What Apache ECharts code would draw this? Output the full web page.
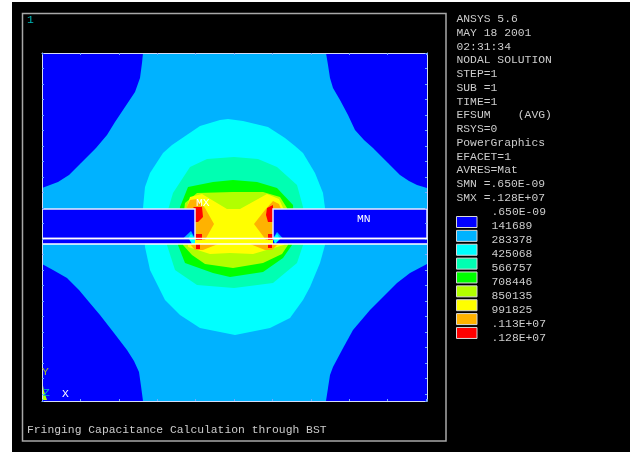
<!DOCTYPE html>
<html><head><meta charset="utf-8">
<style>html,body{margin:0;padding:0;background:#fff;width:630px;height:452px;overflow:hidden}
#bg{position:absolute;left:12px;top:2px;width:618px;height:450px;background:#000}
#c{position:absolute;left:0;top:0;width:630px;height:452px}</style>
<script src="https://cdn.jsdelivr.net/npm/echarts@6/dist/echarts.min.js"></script>
</head><body><div id="bg"></div><div id="c"></div>
<script>
const infoLines = ["ANSYS 5.6","MAY 18 2001","02:31:34","NODAL SOLUTION","STEP=1","SUB =1","TIME=1","EFSUM    (AVG)","RSYS=0","PowerGraphics","EFACET=1","AVRES=Mat","SMN =.650E-09","SMX =.128E+07"];
const levelLabels = [".650E-09","141689","283378","425068","566757","708446","850135","991825",".113E+07",".128E+07"];
const levelColors = ["#0000ff","#00b2ff","#00ffff","#00ffb2","#00ff00","#b2ff00","#ffff00","#ffb200","#ff0000"];
const plotTitle = "Fringing Capacitance Calculation through BST";

const domain = [[0,0],[385,0],[385,348],[0,348]];
const cornerTL = [[0,0],[101,0],[100,10],[98,25],[93,39],[83,54],[73,69],[65,82],[54,95],[39,110],[27,122],[16,129],[8,132],[0,135]];
const cornerTR = [[385,0],[284,0],[286,12],[288,25],[291,35],[298,47],[306,62],[313,77],[322,87],[331,95],[346,110],[358,122],[367,128],[375,132],[385,135]];
const cornerBL = [[0,348],[0,211],[11,217],[25,225],[37,237],[47,249],[58,262],[72,280],[85,297],[92,308],[97,319],[99,333],[101,348]];
const cornerBR = [[385,348],[385,211],[368,220],[355,230],[348,237],[338,247],[328,257],[311,277],[300,297],[291,314],[288,322],[286,335],[284,348]];
const bandCyan = [[186,66],[201,68],[226,74],[243,85],[253,93],[261,100],[273,120],[281,140],[283,155],[283,192],[278,210],[268,234],[261,247],[248,265],[228,275],[193,282],[158,275],[138,262],[123,247],[108,217],[103,194],[101,155],[103,134],[108,120],[121,100],[130,92],[158,73],[178,67]];
const bandSpring = [[192,104],[216,106],[235,114],[255,132],[261,154],[263,175],[261,192],[255,210],[231,230],[192,235],[155,232],[133,217],[125,192],[124,175],[126,157],[131,140],[148,114],[165,106]];
const bandGreen = [[191,127],[215,129],[235,135],[251,152],[252,175],[250,192],[241,205],[221,219],[188,224],[171,220],[143,210],[136,192],[136,175],[138,154],[146,134],[171,129]];
const bandLime = [[155,140],[191,139],[221,139],[238,144],[245,155],[246,175],[246,192],[240,201],[221,210],[191,215],[163,211],[150,202],[141,192],[140,175],[143,150]];
const bandYellow = [[148,144],[160,141],[185,156],[198,156],[225,141],[237,146],[242,157],[242,192],[235,194],[211,201],[188,200],[168,201],[146,194],[144,157]];
const orangeLeft = [[148,147],[155,146],[163,155],[172,171],[163,187],[153,187],[144,156]];
const orangeLowLeft = [[148,191],[176,191],[161,197],[153,197]];
const orangeRight = [[231,148],[237,151],[239,156],[231,187],[224,187],[212,171],[223,157]];
const orangeLowRight = [[208,191],[236,191],[230,197],[223,197]];
const redLeft = [[151,154],[160,154],[161,164],[156,169],[153,169],[153,156]];
const redLeftLow = [[154,181],[160,181],[160,187],[154,187]];
const redLeftStrip = [[154,191],[158,191],[158,196],[154,196]];
const redRight = [[225,155],[231,152],[231,169],[226,169],[224,162]];
const redRightLow = [[226,181],[231,181],[231,187],[226,187]];
const redRightStrip = [[226,191],[230,191],[230,195],[226,195]];
const plateLeft = [[0,156],[153,156],[153,185.5],[0,185.5]];
const plateRight = [[231,156],[385,156],[385,185.5],[231,185.5]];
const stripLeft = [[0,185.5],[153,185.5],[153,191],[0,191]];
const stripRight = [[231,185.5],[385,185.5],[385,191],[231,191]];
const wedgeLeftOuter = [[141,185.5],[149,178],[153,185.5]];
const wedgeLeftInner = [[146,185.5],[149,181],[153,185.5]];
const wedgeLeftStrip = [[147,186],[153,186],[153,191],[150,191]];
const wedgeRightOuter = [[231,185.5],[235,179],[241,185.5]];
const wedgeRightInner = [[231,185.5],[235,181],[238,185.5]];
const wedgeRightStrip = [[231,186],[238,186],[233,191]];
const lineUpper = [[0,185.5],[385,185.5]];
const lineLower = [[0,191],[385,191]];
const triad = [[0,327],[2,338],[5,347],[0,347]];

const c = levelColors;
const layers = [
 {p:domain,f:c[1]},{p:cornerTL,f:c[0]},{p:cornerTR,f:c[0]},{p:cornerBL,f:c[0]},{p:cornerBR,f:c[0]},
 {p:bandCyan,f:c[2]},{p:bandSpring,f:c[3]},{p:bandGreen,f:c[4]},{p:bandLime,f:c[5]},{p:bandYellow,f:c[6]},
 {p:orangeLeft,f:c[7]},{p:orangeLowLeft,f:c[7]},{p:orangeRight,f:c[7]},{p:orangeLowRight,f:c[7]},
 {p:redLeft,f:c[8]},{p:redLeftLow,f:c[8]},{p:redLeftStrip,f:c[8]},{p:redRight,f:c[8]},{p:redRightLow,f:c[8]},{p:redRightStrip,f:c[8]},
 {p:stripLeft,f:c[0]},{p:stripRight,f:c[0]},{p:plateLeft,f:c[0]},{p:plateRight,f:c[0]},
 {p:wedgeLeftOuter,f:c[1]},{p:wedgeLeftInner,f:c[2]},{p:wedgeLeftStrip,f:c[2]},
 {p:wedgeRightOuter,f:c[1]},{p:wedgeRightInner,f:c[2]},{p:wedgeRightStrip,f:c[2]},
 {p:plateLeft,s:"#e8e8ff"},{p:plateRight,s:"#e8e8ff"},{p:lineUpper,s:"#ffffff",line:1},{p:lineLower,s:"#ffffff",line:1},
 {p:triad,f:"#b2ff00"}
];

const FONT = '11.35px "Liberation Mono", monospace';
const TXT = "#cccccc";
const g = [];
function text(x,y,t,fill){ g.push({type:"text",silent:true,x,y,z:100,style:{text:t,fill:fill||TXT,font:FONT,textVerticalAlign:"middle"}}); }
g.push({type:"rect",silent:true,z:1,shape:{x:22.5,y:13.5,width:423.5,height:427.5},style:{fill:"none",stroke:"#a8a8a8",lineWidth:1.5}});
infoLines.forEach((t,i)=>text(456.5,19+i*13.75,t));
levelLabels.forEach((t,i)=>text(491.5,212+i*14.0,t));
levelColors.forEach((col,i)=>g.push({type:"rect",silent:true,z:50,shape:{x:456.5,y:216.5+i*13.87,width:20.5,height:11},style:{fill:col,stroke:"#d8d8d8",lineWidth:1}}));
text(27,430,plotTitle);
text(27,19.5,"1","#00b8b8");
text(196,203,"MX","#ffffff");
text(357,219,"MN","#ffffff");
text(42,372,"Y","#a8c020");
text(43,393,"Z","#00b8b8");
text(62,394,"X","#ffffff");

const axisBase = {type:"value",min:0,axisLabel:{show:false},splitLine:{show:false},z:10,
  axisLine:{show:true,onZero:false,lineStyle:{color:"#d4dcf8",width:1}},
  axisTick:{show:true,inside:true,length:2,lineStyle:{color:"#70a8ff"}}};
const xa = Object.assign({},axisBase,{max:385,interval:38.4});
const ya = Object.assign({},axisBase,{max:348,interval:15.5,inverse:true});

const chart = echarts.init(document.getElementById("c"),null,{renderer:"canvas"});
chart.setOption({
  animation:false,backgroundColor:"transparent",
  grid:{left:42,top:53,width:385,height:348,containLabel:false},
  xAxis:[Object.assign({},xa,{position:"bottom"}),Object.assign({},xa,{position:"top"})],
  yAxis:[Object.assign({},ya,{position:"left"}),Object.assign({},ya,{position:"right"})],
  graphic:g,
  series:[{type:"custom",silent:true,clip:true,coordinateSystem:"cartesian2d",
    data:layers.map((l,i)=>[i,0]),encode:{x:1,y:1},
    renderItem(params,api){
      const l=layers[api.value(0)];
      const pts=l.p.map(q=>api.coord(q));
      if(l.line) return {type:"polyline",shape:{points:pts},style:{fill:"none",stroke:l.s,lineWidth:1.5}};
      return {type:"polygon",shape:{points:pts},style:l.f?{fill:l.f}:{fill:"none",stroke:l.s,lineWidth:1.5}};
    }}]
});
</script></body></html>
